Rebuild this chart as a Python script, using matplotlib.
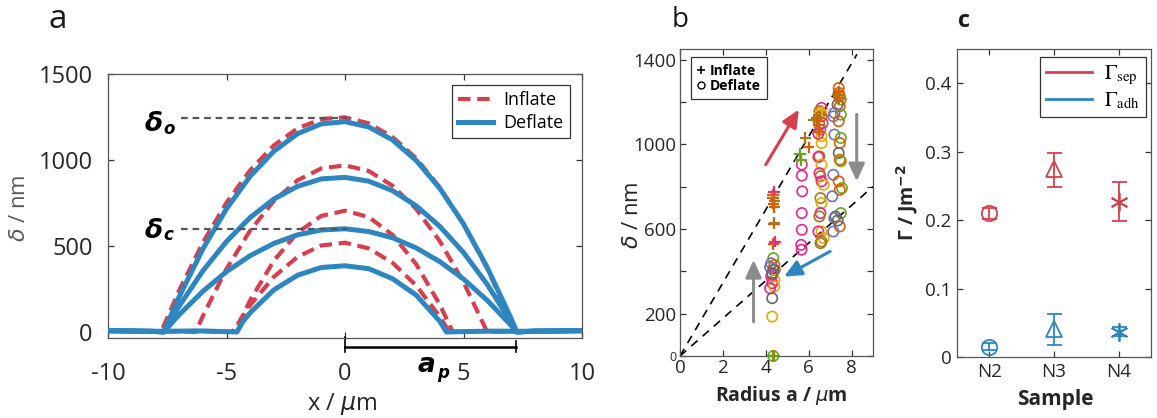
import numpy as np
import matplotlib
matplotlib.use("Agg")
import matplotlib.pyplot as plt
from matplotlib.lines import Line2D

plt.rcParams['font.family'] = ['Open Sans', 'DejaVu Sans']
plt.rcParams['mathtext.fontset'] = 'dejavusans'
plt.rcParams['axes.unicode_minus'] = False

RED = '#D6404E'
BLUE = '#2E86C1'
GREY = '#8C8C8C'
DK = {'or': '#D95F02', 'pu': '#7570B3', 'pk': '#E7298A', 'gr': '#66A61E',
      'go': '#E6AB02', 'br': '#A6761D', 'gy': '#666666'}

# ---- panel a : height profiles (x in um, delta in nm)
inf1_x = [-10, -9, -8, -7.76, -7, -6, -5, -4, -3, -2, -1, 0, 1, 2, 3, 4, 5, 6, 7, 7.2, 8, 9, 10]
inf1_y = [8, 5, 3, 0, 241, 519, 752, 941, 1085, 1184, 1238, 1248, 1213, 1134, 1010, 841, 627, 369, 66, 0, 5, 6, 8]
inf2_x = [-10, -8, -7, -6.3, -6, -5, -4, -3, -2, -1, 0, 1, 2, 3, 4, 5, 6.0, 7, 8, 10]
inf2_y = [8, 4, 5, 0, 92, 367, 590, 762, 882, 951, 969, 936, 851, 716, 528, 290, 0, 5, 4, 8]
inf3_x = [-10, -8, -6, -4.65, -4, -3, -2, -1, 0, 1, 2, 3, 4, 4.55, 6, 8, 10]
inf3_y = [8, 4, 6, 0, 185, 415, 578, 675, 705, 668, 565, 395, 159, 0, 5, 4, 8]
inf4_x = [-10, -8, -6, -4.75, -4, -3, -2, -1, 0, 1, 2, 3, 4, 4.4, 6, 8, 10]
inf4_y = [8, 4, 6, 0, 156, 321, 437, 503, 519, 486, 403, 271, 89, 0, 5, 4, 8]

def_x = [-10, -9, -8, -7.65, -7, -6, -5, -4, -3, -2, -1, 0, 1, 2, 3, 4, 5, 6, 7, 7.25, 8, 9, 10]
def1_y = [8, 5, 3, 0, 204, 482, 716, 906, 1051, 1153, 1210, 1223, 1192, 1117, 998, 835, 628, 376, 81, 0, 5, 6, 8]
def2_y = [8, 5, 3, 0, 150, 355, 526, 666, 773, 847, 890, 899, 877, 822, 734, 614, 462, 277, 59, 0, 5, 6, 8]
def3_y = [8, 5, 3, 0, 100, 236, 351, 444, 515, 565, 593, 600, 584, 548, 489, 409, 308, 184, 40, 0, 5, 6, 8]
def4_x = [-10, -8, -6, -4.56, -4.3, -4, -3, -2, -1, 0, 1, 2, 3, 4, 4.28, 6, 8, 10]
def4_y = [8, 4, 6, 0, 62, 112, 245, 330, 375, 385, 368, 310, 215, 62, 0, 5, 4, 8]

delta0 = 1245
deltac = 600
ap = 7.2

# ---- panel b : delta vs radius
pl_x = [4.35, 4.38, 4.33, 4.4, 4.36, 4.4, 4.37, 4.4, 4.36, 4.42, 4.38, 4.35,
        5.6, 5.65, 5.85, 6.0, 6.25, 6.4, 6.45, 6.5, 6.55, 6.6, 6.5,
        7.4, 7.38, 7.42]
pl_y = [760, 775, 745, 730, 720, 705, 625, 628, 530, 540, 0, 0,
        955, 925, 1030, 985, 1115, 1125, 1090, 1060, 1140, 1160, 1110,
        1250, 1235, 1220]
pl_c = ['or', 'pk', 'or', 'br', 'or', 'or', 'or', 'br', 'or', 'pk', 'or', 'gr',
        'gr', 'gr', 'br', 'or', 'br', 'br', 'or', 'or', 'br', 'go', 'or',
        'or', 'br', 'or']

ci_x = [4.35, 4.25, 4.4, 4.42, 4.35, 4.3, 4.25, 4.4, 4.3, 4.4, 4.2, 4.3, 4.3, 4.35, 4.2, 4.3,
        5.68, 5.68, 5.7, 5.68, 5.68, 5.65, 5.67,
        6.6, 6.5, 6.55, 6.6, 6.5, 6.55, 6.6, 6.6, 6.5, 6.45, 6.6, 6.5, 6.55, 6.6, 6.7,
        6.55, 6.6, 6.55, 6.5, 6.6, 6.45, 6.7, 6.6, 6.55, 6.45, 6.65,
        7.4, 7.4, 7.45, 7.5, 7.35, 7.45, 7.5, 7.2, 7.15, 7.4, 7.2, 7.5, 7.45, 7.4,
        7.45, 7.5, 7.15, 7.4, 7.55, 7.45, 7.1, 7.5, 7.25, 7.2, 7.45, 7.15, 7.35]
ci_y = [462, 438, 430, 407, 407, 383, 375, 360, 344, 328, 320, 273, 186, 0, 420, 390,
        904, 852, 778, 675, 596, 525, 502,
        1172, 1156, 1148, 1133, 1093, 1069, 1038, 1006, 943, 940, 904, 864, 849, 825, 809,
        746, 722, 675, 659, 588, 588, 557, 541, 533, 1050, 1100,
        1266, 1243, 1227, 1211, 1188, 1180, 1140, 1148, 1132, 1109, 1046, 1030, 1006, 959,
        927, 920, 856, 825, 793, 785, 754, 675, 659, 651, 612, 588, 640]
ci_c = ['gr', 'pu', 'or', 'or', 'gy', 'pk', 'pk', 'go', 'pk', 'go', 'pk', 'gy', 'go', 'gr', 'pu', 'gy',
        'pk', 'pk', 'pk', 'pk', 'pk', 'pk', 'pk',
        'pk', 'br', 'go', 'or', 'br', 'br', 'go', 'go', 'br', 'pk', 'go', 'pk', 'br', 'pk', 'go',
        'br', 'go', 'pk', 'br', 'go', 'pk', 'go', 'br', 'br', 'pk', 'pk',
        'or', 'or', 'or', 'gr', 'gy', 'or', 'gr', 'pu', 'pu', 'or', 'pu', 'gr', 'or', 'gy',
        'or', 'gr', 'pu', 'or', 'gr', 'or', 'pu', 'gr', 'gy', 'pu', 'or', 'pu', 'gy']

fit_hi = [(0, 0), (8.25, 1425)]
fit_lo = [(0, 0), (9.0, 800)]

# ---- panel c : adhesion energies
samples = ['N2', 'N3', 'N4']
sep_val = [0.210, 0.274, 0.226]
sep_lo = [0.202, 0.248, 0.198]
sep_hi = [0.218, 0.298, 0.255]
adh_val = [0.015, 0.041, 0.037]
adh_lo = [0.010, 0.017, 0.030]
adh_hi = [0.020, 0.063, 0.044]
marks = ['o', '^', (6, 2, 0)]
msizes = [11, 12, 13]


def style(ax, size, pad, xpad=None):
    ax.tick_params(which='both', direction='in', top=True, right=True,
                   length=4, width=0.9, labelsize=size, pad=pad, colors='#333333',
                   labelcolor='#262626')
    if xpad is not None:
        ax.tick_params(axis='x', pad=xpad)
    for s in ax.spines.values():
        s.set_color('#555555')
        s.set_linewidth(0.9)


fig = plt.figure(figsize=(11.57, 4.18), dpi=100)
W, H = 1157, 418
axa = fig.add_axes([108/W, 80/H, 474/W, 264/H])
axb = fig.add_axes([680/W, 62/H, 193/W, 307/H])
axc = fig.add_axes([957/W, 61/H, 194/W, 308/H])

# panel a
for xs, ys in [(inf1_x, inf1_y), (inf2_x, inf2_y), (inf3_x, inf3_y), (inf4_x, inf4_y)]:
    axa.plot(xs, ys, color=RED, lw=3.0, dashes=(3, 1.6), zorder=2)
for xs, ys in [(def_x, def1_y), (def_x, def2_y), (def_x, def3_y), (def4_x, def4_y)]:
    axa.plot(xs, ys, color=BLUE, lw=3.6, zorder=3, solid_joinstyle='round')
for d in [delta0, deltac]:
    axa.plot([-6.9, 0.1], [d, d], color='#555555', lw=1.6, dashes=(3, 2.2), zorder=4)
axa.plot([0, ap], [-85, -85], color='k', lw=1.8, clip_on=False)
axa.plot([0, 0], [-30, -115], color='k', lw=1.2, clip_on=False)
axa.plot([ap, ap], [-50, -115], color='k', lw=1.2, clip_on=False)

axa.text(-8.44, 1168, 'δ', fontsize=19, fontweight='bold', fontstyle='italic',
         family='DejaVu Sans', va='baseline')
axa.text(-7.68, 1150, 'o', fontsize=12, fontweight='bold', fontstyle='italic',
         family='DejaVu Sans', va='baseline')
axa.text(-8.44, 549, 'δ', fontsize=19, fontweight='bold', fontstyle='italic',
         family='DejaVu Sans', va='baseline')
axa.text(-7.68, 532, 'c', fontsize=12, fontweight='bold', fontstyle='italic',
         family='DejaVu Sans', va='baseline')
axa.text(3.04, -231, 'a', fontsize=19, fontweight='bold', fontstyle='italic',
         family='DejaVu Sans', va='baseline')
axa.text(3.88, -266, 'p', fontsize=12, fontweight='bold', fontstyle='italic',
         family='DejaVu Sans', va='baseline')

axa.set_xlim(-10, 10)
axa.set_ylim(-35, 1500)
axa.set_xticks([-10, -5, 0, 5, 10])
axa.set_yticks([0, 500, 1000, 1500])
style(axa, 17, 11, xpad=17)
axa.set_xlabel(r'x / $\mu$m', fontsize=17, color='#262626')
axa.xaxis.set_label_coords(0.493, -0.2)
axa.set_ylabel(r'$\delta$ / nm', fontsize=16, color='#595959')
axa.yaxis.set_label_coords(-0.165, 0.49)
ha = [Line2D([], [], color=RED, lw=3.0, dashes=(3, 1.6)),
      Line2D([], [], color=BLUE, lw=3.6)]
leg = axa.legend(ha, ['Inflate', 'Deflate'], loc='upper right', bbox_to_anchor=(0.975, 0.958),
                 borderaxespad=0, fancybox=False, framealpha=1, edgecolor='#333333',
                 fontsize=13, handlelength=1.9, handletextpad=0.6, borderpad=0.35,
                 labelspacing=0.25)
leg.get_frame().set_linewidth(0.9)

# panel b
axb.plot(*zip(*fit_hi), color='k', lw=1.2, dashes=(5, 4), zorder=2)
axb.plot(*zip(*fit_lo), color='k', lw=1.2, dashes=(5, 4), zorder=2)
axb.scatter(ci_x, ci_y, s=55, marker='o', facecolors='none',
            edgecolors=[DK[c] for c in ci_c], linewidths=1.2, clip_on=False, zorder=3)
axb.scatter(pl_x, pl_y, s=70, marker='+', c=[DK[c] for c in pl_c],
            linewidths=1.6, clip_on=False, zorder=4)
arrows = [((4.0, 904), (5.54, 1164), RED), ((8.24, 1141), (8.24, 825), GREY),
          ((3.43, 162), (3.43, 454), GREY), ((7.0, 494), (4.85, 375), BLUE)]
for tail, head, col in arrows:
    axb.annotate('', xy=head, xytext=tail,
                 arrowprops=dict(arrowstyle='-|>,head_length=0.7,head_width=0.32',
                                 color=col, lw=2.2, shrinkA=0, shrinkB=0, mutation_scale=15))
axb.set_xlim(0, 9)
axb.set_ylim(0, 1450)
axb.set_xticks([0, 2, 4, 6, 8])
axb.set_yticks(range(0, 1401, 200))
axb.set_yticklabels(['0', '200', '', '600', '', '1000', '', '1400'])
style(axb, 13.5, 2.5)
axb.get_yticklabels()[0].set_fontsize(9)
axb.set_xlabel(r'Radius a / $\mu$m', fontsize=14, fontweight='bold', color='#262626')
axb.xaxis.set_label_coords(0.526, -0.09)
axb.set_ylabel(r'$\delta$ / nm', fontsize=16, color='#262626')
axb.yaxis.set_label_coords(-0.19, 0.46)
hb = [Line2D([], [], marker='+', color='k', ls='none', ms=6, mew=1.2),
      Line2D([], [], marker='o', color='k', mfc='none', ls='none', ms=5, mew=1.0)]
legb = axb.legend(hb, ['Inflate', 'Deflate'], loc='upper left', bbox_to_anchor=(0.055, 0.973),
                  borderaxespad=0, fancybox=False, framealpha=1, edgecolor='#333333',
                  prop={'weight': 'bold', 'size': 10}, handlelength=0.6, handletextpad=0.3,
                  borderpad=0.45, labelspacing=0.1)
legb.get_frame().set_linewidth(0.9)

# panel c
for i in range(3):
    for val, lo, hi, col in [(sep_val, sep_lo, sep_hi, RED), (adh_val, adh_lo, adh_hi, BLUE)]:
        axc.errorbar(i + 1, val[i], yerr=[[val[i] - lo[i]], [hi[i] - val[i]]],
                     marker=marks[i], ms=msizes[i], mfc='none', mec=col, mew=1.3,
                     color=col, elinewidth=1.3, capsize=5.4, capthick=1.3)
axc.set_xlim(0.5, 3.5)
axc.set_ylim(0, 0.45)
axc.set_xticks([1, 2, 3])
axc.set_xticklabels(samples)
axc.set_yticks([0, 0.1, 0.2, 0.3, 0.4])
axc.set_yticklabels(['0', '0.1', '0.2', '0.3', '0.4'])
style(axc, 13.5, 4)
axc.set_xlabel('Sample', fontsize=15, fontweight='bold', color='#262626')
axc.xaxis.set_label_coords(0.505, -0.105)
axc.set_ylabel(r'Γ / Jm$^{\mathbf{-2}}$', fontsize=14, fontweight='bold', color='#262626')
axc.yaxis.set_label_coords(-0.19, 0.5)
hc = [Line2D([], [], color=RED, lw=2), Line2D([], [], color=BLUE, lw=2)]
legc = axc.legend(hc, [r'$\Gamma_{\rm sep}$', r'$\Gamma_{\rm adh}$'], loc='upper right',
                  bbox_to_anchor=(0.974, 0.974), borderaxespad=0, fancybox=False,
                  framealpha=1, edgecolor='#333333', fontsize=15, handlelength=2.2,
                  handletextpad=0.6, borderpad=0.3, labelspacing=0.15)
legc.get_frame().set_linewidth(0.9)
for t in legc.get_texts():
    t.set_math_fontfamily('stix')

fig.text(48/W, (H - 28)/H, 'a', fontsize=24, va='baseline', color='#1a1a1a')
fig.text(672/W, (H - 27)/H, 'b', fontsize=20, va='baseline', color='#1a1a1a')
fig.text(958/W, (H - 27)/H, 'c', fontsize=17, va='baseline', fontweight='bold', color='#1a1a1a')

fig.savefig('out.png', dpi=100)
